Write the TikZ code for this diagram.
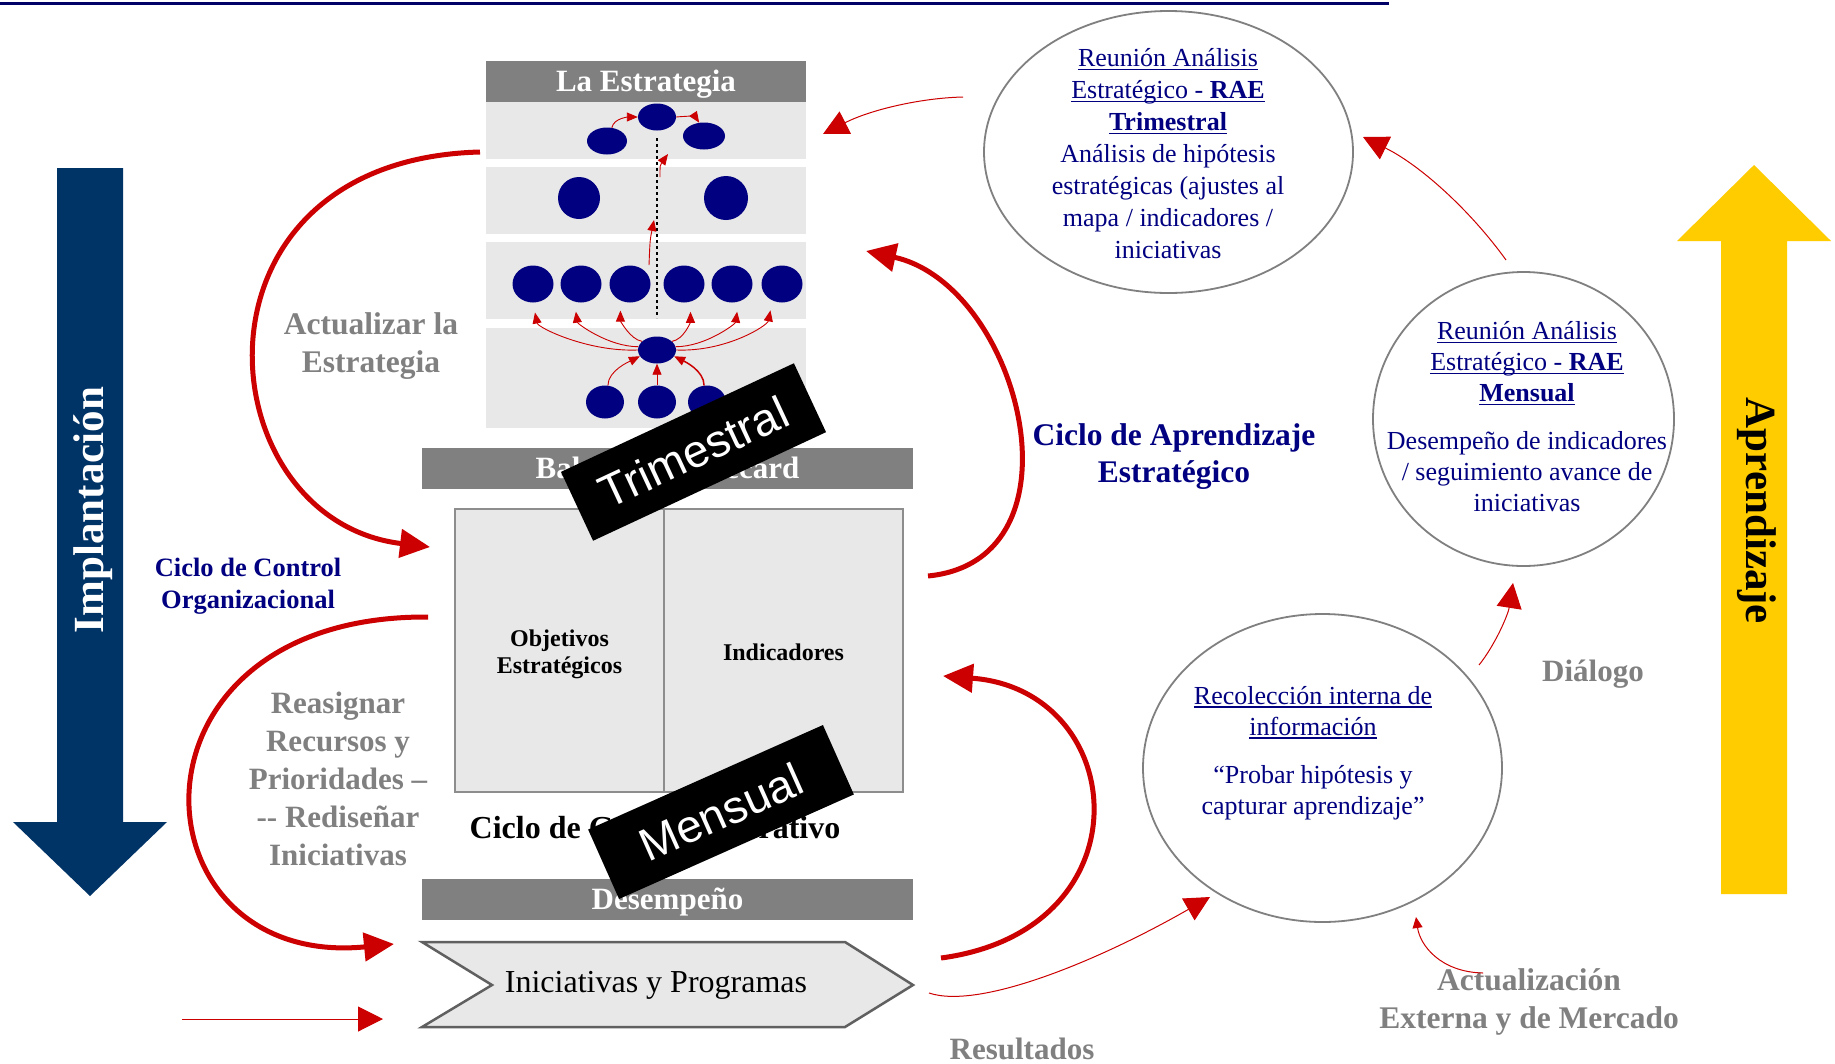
\documentclass[tikz,border=0pt]{standalone}
\usepackage{fontspec}
\setmainfont{Liberation Serif}
\newfontfamily\arialf{Liberation Sans}
\usetikzlibrary{arrows.meta,shapes.geometric,calc}
\definecolor{navyc}{HTML}{000080}
\definecolor{redc}{HTML}{CC0000}
\definecolor{grayc}{HTML}{808080}
\definecolor{bandc}{HTML}{E8E8E8}
\definecolor{implc}{HTML}{003366}
\definecolor{yelc}{HTML}{FFCC00}
\definecolor{linec}{HTML}{000066}
\definecolor{chevc}{HTML}{606060}
\newcommand\fsz[2]{\fontsize{#1}{#2}\selectfont}
\newcommand\myul[1]{\setbox0\hbox{#1}\rlap{\rule[-3.5pt]{\wd0}{1.3pt}}\box0}
\tikzset{
 redthick/.style={draw=redc, line width=5pt, -{Triangle[length=30pt,width=28pt]}},
 redthin/.style={draw=redc, line width=1pt, -{Triangle[length=25pt,width=25pt]}},
 redtiny/.style={draw=redc, line width=0.9pt, -{Triangle[length=11pt,width=9pt]}},
 blob/.style={ellipse, fill=navyc, inner sep=0pt, draw=none},
 hdr/.style={rectangle, fill=grayc, text=white, font=\bfseries\fsz{31}{36}, inner sep=0pt, minimum width=491pt, minimum height=41pt, text height=24pt, text depth=4pt},
 bubble/.style={ellipse, draw=grayc, line width=1.8pt, inner sep=0pt},
 bubtxt/.style={text=navyc, align=center, font=\fsz{26}{32}},
 graylbl/.style={text=grayc, align=center, font=\bfseries\fsz{31.5}{38}},
 cell/.style={rectangle, fill=bandc, draw=grayc!90, line width=1.5pt, minimum height=283pt, inner sep=0pt},
 celltxt/.style={font=\bfseries\fsz{24}{27}, align=center},
 blackbox/.style={rectangle, fill=black, text=white, font=\arialf\fsz{46}{50}, minimum width=257pt, minimum height=76pt, inner sep=0pt},
}
\begin{document}
\begin{tikzpicture}[x=1pt,y=-1pt]
\fill[white] (0,0) rectangle (1835,1063);
\useasboundingbox (0,0) rectangle (1835,1063);

% top line
\draw[linec, line width=3pt] (0,3) -- (1389,3);

% big arrows
\fill[implc] (57,168) -- (123,168) -- (123,822) -- (167,822) -- (90,896) -- (13,822) -- (57,822) -- cycle;
\node[rotate=90, text=white, font=\bfseries\fsz{43}{50}] (impl) at (93,510) {Implantación};
\fill[yelc] (1721,894) -- (1721,241) -- (1677,241) -- (1754,165) -- (1831,241) -- (1787,241) -- (1787,894) -- cycle;
\node[rotate=-90, font=\bfseries\fsz{43}{50}] (apre) at (1757,511) {Aprendizaje};

% strategy map bands
\fill[bandc] (486,102) rectangle (806,159);
\fill[bandc] (486,167) rectangle (806,234);
\fill[bandc] (486,242) rectangle (806,319);
\fill[bandc] (486,328) rectangle (806,428);
\coordinate (dtop) at (657,138);
\coordinate (dbot) at (657,318);
\draw[black, line width=2.5pt, dash pattern=on 3pt off 3pt] (dtop) -- (dbot);

\node[blob, minimum width=38pt, minimum height=27pt] (tc) at (657,117) {};
\node[blob, minimum width=40pt, minimum height=27pt] (tl) at (607,141) {};
\node[blob, minimum width=42pt, minimum height=27pt] (tr) at (704,136) {};
\node[blob, minimum width=42pt, minimum height=42pt] (m1) at (579,198) {};
\node[blob, minimum width=44pt, minimum height=44pt] (m2) at (726,198) {};
\foreach \n/\x in {b1/533,b2/581,b3/630,b4/684,b5/732,b6/782}
  \node[blob, minimum width=41pt, minimum height=37pt] (\n) at (\x,284) {};
\node[blob, minimum width=38pt, minimum height=27pt] (c) at (657,350) {};
\node[blob, minimum width=38pt, minimum height=33pt] (d1) at (605,402) {};
\node[blob, minimum width=38pt, minimum height=33pt] (d2) at (657,402) {};
\node[blob, minimum width=38pt, minimum height=33pt] (d3) at (707,402) {};

\draw[redtiny] (tl.70) .. controls +(2,-10) and +(-8,0) .. (tc.west);
\draw[redtiny] (tc.east) .. controls +(10,-1) and +(-4,-6) .. (tr.110);
\coordinate (a1s) at (660,177); \coordinate (a1e) at (668,154);
\coordinate (a2s) at (649,265); \coordinate (a2e) at (654,220);
\draw[redtiny] (a1s) .. controls (660,165) .. (a1e);
\draw[redtiny] (a2s) .. controls (650,240) .. (a2e);
\draw[redtiny, shorten >=10pt] (c.180) .. controls +(-50,2) and +(5,25) .. (b1.270);
\draw[redtiny, shorten >=10pt] (c.170) .. controls +(-30,0) and +(3,22) .. (b2.250);
\draw[redtiny, shorten >=10pt] (c.150) .. controls +(-12,-2) and +(0,20) .. (b3.240);
\draw[redtiny, shorten >=10pt] (c.30) .. controls +(12,-2) and +(0,20) .. (b4.290);
\draw[redtiny, shorten >=10pt] (c.10) .. controls +(30,0) and +(-3,22) .. (b5.290);
\draw[redtiny, shorten >=10pt] (c.0) .. controls +(50,2) and +(-5,25) .. (b6.240);
\draw[redtiny] (d1.80) .. controls +(0,-15) and +(-10,5) .. (c.200);
\draw[redtiny] (d2.north) -- (c.south);
\draw[redtiny, line width=1.5pt] (d3.100) .. controls +(0,-15) and +(10,5) .. (c.340);

% headers
\node[hdr, minimum width=320pt] (hest) at (646,81.5) {La Estrategia};
\node[hdr] (hbsc) at (667.5,468) {Balanced Scorecard};
\node[hdr] (hdes) at (667.5,899.5) {Desempeño};

% scorecard cells
\node[cell, minimum width=209pt] (obj) at (559.5,650.5) {};
\node[cell, minimum width=239pt] (ind) at (783.5,650.5) {};
\node[celltxt] (objt) at (559.5,654) {Objetivos\\Estratégicos};
\node[celltxt] (indt) at (783.5,652) {Indicadores};
\node[font=\bfseries\fsz{32}{38}] (cgo) at (655,831) {Ciclo de Gestión Operativo};

% chevron
\draw[fill=bandc, draw=chevc, line width=2.5pt] (422,942) -- (845,942) -- (913,985) -- (845,1027) -- (422,1027) -- (492,985) -- cycle;
\node[font=\fsz{32}{38}] (inic) at (656,985) {Iniciativas y Programas};

% bubbles
\node[bubble, minimum width=369pt, minimum height=282pt] (raet) at (1168.5,152) {};
\node[bubtxt] (raettxt) at (1168,154) {\myul{Reunión Análisis}\\\myul{Estratégico - \textbf{RAE}}\\\myul{\textbf{Trimestral}}\\Análisis de hipótesis\\estratégicas (ajustes al\\mapa / indicadores /\\iniciativas};
\node[bubble, minimum width=301pt, minimum height=294pt] (raem) at (1523.5,419) {};
\node[bubtxt, font=\fsz{26}{31}] (raemtxt) at (1527,417) {\myul{Reunión Análisis}\\\myul{Estratégico - \textbf{RAE}}\\\myul{\textbf{Mensual}}\\[17pt]Desempeño de indicadores\\/ seguimiento avance de\\iniciativas};
\node[bubble, minimum width=359pt, minimum height=308pt] (reco) at (1322.5,768) {};
\node[bubtxt, font=\fsz{26}{31}] (recotxt) at (1313,753) {\myul{Recolección interna de}\\\myul{información}\\[17pt]“Probar hipótesis y\\capturar aprendizaje”};

% labels
\node[graylbl] (actE) at (371,346) {Actualizar la\\Estrategia};
\node[text=navyc, align=center, font=\bfseries\fsz{26.5}{32}] (ccontrol) at (248,586) {Ciclo de Control\\Organizacional};
\node[graylbl, font=\bfseries\fsz{31}{38}] (reas) at (338,779) {Reasignar\\Recursos y\\Prioridades –\\-{}- Rediseñar\\Iniciativas};
\node[text=navyc, align=center, font=\bfseries\fsz{31.5}{37}] (capr) at (1174,457) {Ciclo de Aprendizaje\\Estratégico};
\node[text=grayc, font=\bfseries\fsz{31}{36}] (dial) at (1593,674) {Diálogo};
\node[graylbl] (actx) at (1529,1002) {Actualización\\Externa y de Mercado};
\node[text=grayc, font=\bfseries\fsz{31}{36}] (resu) at (1022,1049) {Resultados};

% thick red cycles
\coordinate (A1s) at (480,152); \coordinate (A1e) at (430,547);
\coordinate (A2s) at (428,617); \coordinate (A2e) at (394,944);
\coordinate (A3s) at (928,576); \coordinate (A3e) at (866,251);
\coordinate (A4s) at (941,958); \coordinate (A4e) at (943,676);
\draw[redthick] (A1s) .. controls (175,160) and (205,520) .. (A1e);
\draw[redthick] (A2s) .. controls (110,615) and (130,970) .. (A2e);
\draw[redthick] (A3s) .. controls (1090,560) and (1020,285) .. (A3e);
\draw[redthick] (A4s) .. controls (1150,930) and (1130,690) .. (A4e);

% thin red arrows
\coordinate (T1s) at (963,97); \coordinate (T1e) at (823,134);
\coordinate (T2s) at (1506,260); \coordinate (T2e) at (1363,137);
\coordinate (T3s) at (1479,665); \coordinate (T3e) at (1513,583);
\coordinate (T4s) at (929,993); \coordinate (T4e) at (1210,897);
\coordinate (T5s) at (1483,973); \coordinate (T5e) at (1416,917);
\coordinate (T6s) at (182,1019); \coordinate (T6e) at (383,1019);
\draw[redthin] (T1s) .. controls (920,98) and (870,110) .. (T1e);
\draw[redthin] (T2s) .. controls (1470,210) and (1420,165) .. (T2e);
\draw[redthin] (T3s) .. controls (1495,645) and (1508,615) .. (T3e);
\draw[redthin] (T4s) .. controls (980,1010) and (1100,960) .. (T4e);
\draw[redc, line width=1pt, -{Triangle[length=11pt,width=10pt]}] (T5s) .. controls (1440,972) and (1420,945) .. (T5e);
\draw[redthin] (T6s) -- (T6e);

% black labels
\node[blackbox, rotate=25] (trim) at (693.5,452) {Trimestral};
\node[blackbox, rotate=24] (mens) at (721,812) {Mensual};
\end{tikzpicture}
\end{document}
